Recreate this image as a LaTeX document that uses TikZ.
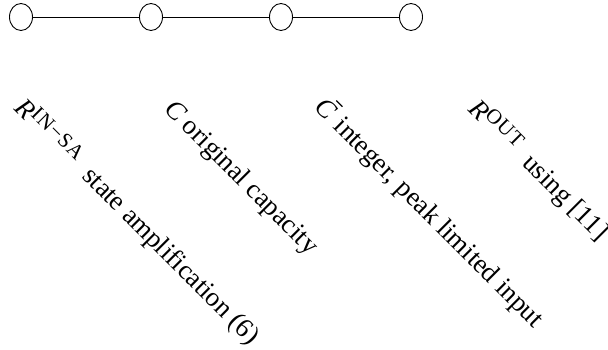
\documentclass[tikz,border=0pt]{standalone}
\usepackage{fontspec}
\setmainfont{Liberation Serif}
\usetikzlibrary{shapes.geometric}
\newcommand{\supcap}[1]{\raisebox{0.28em}{\fontsize{21}{22}\selectfont #1}}
\begin{document}
\begin{tikzpicture}[x=1pt,y=1pt,
  stage/.style={ellipse,draw,line width=0.9pt,minimum width=23pt,minimum height=27pt,inner sep=0pt},
  link/.style={line width=0.9pt},
  lab/.style={anchor=base west,rotate=-45,inner sep=0pt,font=\fontsize{27}{30}\selectfont}]
\useasboundingbox (0,0) rectangle (608,-350);
\node[stage] (n1) at (21,-17) {};
\node[stage] (n2) at (151,-17) {};
\node[stage] (n3) at (281,-17) {};
\node[stage] (n4) at (411,-17) {};
\draw[link] (n1) -- (n2);
\draw[link] (n2) -- (n3);
\draw[link] (n3) -- (n4);
\node[lab] (l1) at (13,-109) {\textit{R}\supcap{I\kern0.05em N\kern0.05em −\kern0.05em S\kern0.05em A}\hspace{0.3em} state amplification (6)};
\node[lab] (l2) at (163,-110) {\textit{C} original capacity};
\node[lab] (l3) at (313,-108) {\textit{C}\makebox[0pt][r]{\raisebox{0.78em}{\rule{0.32em}{0.05em}}\hspace{-0.05em}}\hspace{0.1em} integer, peak limited input};
\node[lab] (l4) at (467,-110) {\textit{R}\supcap{O\kern0.05em U\kern0.05em T}\hspace{0.3em} using [11]};
\end{tikzpicture}
\end{document}
